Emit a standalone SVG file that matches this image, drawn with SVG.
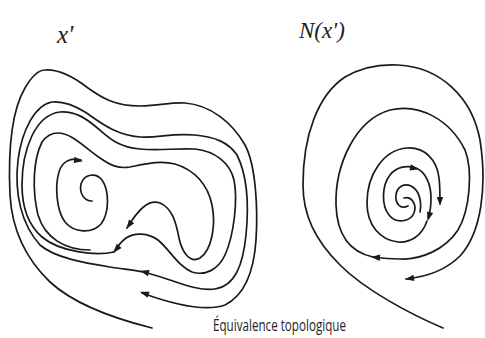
<svg xmlns="http://www.w3.org/2000/svg" xmlns:xlink="http://www.w3.org/1999/xlink" width="485" height="338" viewBox="0 0 485 338">
<style>
.c{fill:none;stroke:#1a1a1a;stroke-width:1.7;stroke-linecap:round;stroke-linejoin:round}
.ah{fill:#1a1a1a}
.math{font-family:"Liberation Serif",serif;font-style:italic;fill:#222}
.cap{font-family:"Open Sans","Liberation Sans",sans-serif;fill:#1c1c28}
</style>
<defs>
<path id="ah" d="M1,0 L-8,-3.2 L-8,3.2 Z"/>
</defs>
<rect width="485" height="338" fill="#fff"/>
<g id="labels">
<text class="math" x="57" y="43" font-size="25">x'</text>
<text class="math" x="299" y="38" font-size="23">N(x')</text>
<text class="cap" x="213" y="331" font-size="15.5" textLength="133" lengthAdjust="spacingAndGlyphs">Équivalence topologique</text>
</g>
<g id="left-portrait">
<path id="LA" class="c" d="M152,328 C120,320 75,305 50,282 C25,258 12,230 10,195 C8,150 12,110 25,88 C32,76 38,70 45,70 C60,69 75,78 88,88 C102,98 115,106 140,106 C160,106 170,102 185,103 C210,105 232,122 245,145 C256,165 258,210 256,240 C254,270 245,295 225,305 C205,312 175,305 142,293"/>
<path id="LB" class="c" d="M143,272 C170,278 195,292 215,289 C235,286 243,265 246,235 C249,205 247,175 237,155 C228,142 215,137 195,135 C170,133 160,138 140,137 C115,135 100,122 85,112 C72,104 62,101 52,102 C35,105 22,130 18,160 C14,195 22,225 40,245 C55,258 85,263 110,267 C122,269 133,270 143,272"/>
<path id="LC" class="c" d="M114,252 C95,256 60,252 42,237 C27,224 22,205 22,185 C22,150 35,115 60,112 C75,111 85,118 95,126 C105,134 115,147 140,149 C160,151 175,148 195,149 C215,151 230,163 234,180 C238,200 234,235 225,255 C218,270 205,276 192,272 C178,266 170,250 158,240 C148,233 135,232 126,238 C121,242 117,247 114,252"/>
<path id="LD" class="c" d="M90,250 C65,250 45,238 38,215 C32,190 33,160 42,142 C47,135 52,133 58,133 C72,133 85,148 100,158 C110,165 118,169 130,167 C145,164 160,160 175,164 C195,170 208,185 212,205 C216,225 212,250 200,258 C190,264 182,252 179,238 C176,222 172,208 160,203 C148,199 138,210 127,228"/>
<path id="LE" class="c" d="M92,201 C84,201 79,193 81,184 C84,174 96,172 102,180 C109,190 110,212 101,224 C92,234 74,233 65,222 C56,210 55,185 59,172 C62,162 70,157 81,160"/>
<use xlink:href="#ah" class="ah" transform="translate(141,292) rotate(200)"/>
<use xlink:href="#ah" class="ah" transform="translate(141,271) rotate(195)"/>
<use xlink:href="#ah" class="ah" transform="translate(114,252) rotate(130)"/>
<use xlink:href="#ah" class="ah" transform="translate(127,228) rotate(125)"/>
<use xlink:href="#ah" class="ah" transform="translate(82,161) rotate(8)"/>
</g>
<g id="right-portrait">
<path id="R1" class="c" d="M443,328 C410,314 365,290 340,265 C315,240 303,215 303,185 C303,135 318,95 345,77 C362,67 380,64 398,65 C440,67 472,97 480,140 C487,185 482,232 460,256 C445,271 425,277 406,279"/>
<path id="R2" class="c" d="M373,257 C350,252 337,235 336,205 C335,165 355,120 390,110 C420,103 450,120 465,150 C473,170 470,210 458,230 C445,250 420,260 400,259 C390,259 380,258 373,257"/>
<path id="R3" class="c" d="M427,221 C422,236 410,243 398,242 C380,240 367,225 367,203 C367,175 383,150 407,148 C425,147 437,160 439,178 C440,186 440,195 440,203"/>
<path id="R4" class="c" d="M404,198 C412,196 417,205 414,213 C410,222 396,224 389,215 C381,205 382,185 390,175 C396,167 406,165 416,168 C426,172 431,185 431,198 C431,207 430,213 428,218"/>
<path id="R5" class="c" d="M408,206 C400,210 395,203 396,195 C397,186 405,183 411,186 C419,190 422,201 420,212"/>
<use xlink:href="#ah" class="ah" transform="translate(406,279) rotate(172)"/>
<use xlink:href="#ah" class="ah" transform="translate(372,257) rotate(185)"/>
<use xlink:href="#ah" class="ah" transform="translate(418,169) rotate(12)"/>
<use xlink:href="#ah" class="ah" transform="translate(440,205) rotate(90)"/>
<use xlink:href="#ah" class="ah" transform="translate(428,220) rotate(105)"/>
</g>
</svg>
